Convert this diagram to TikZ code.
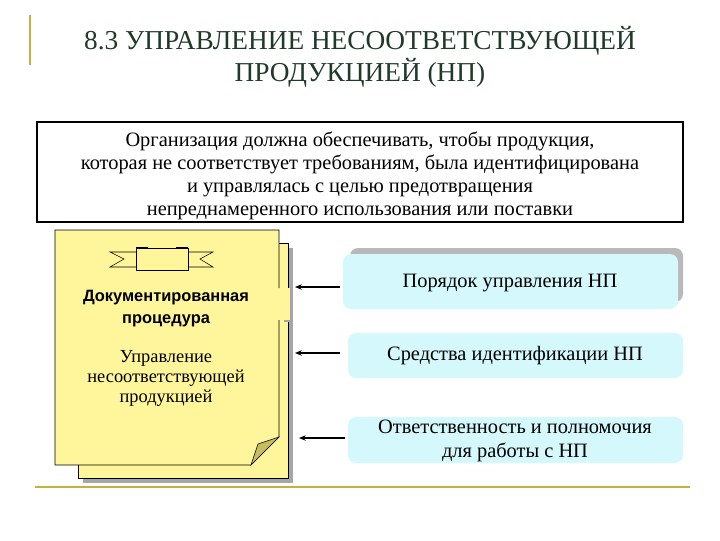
\documentclass[tikz,border=0pt]{standalone}
\usepackage{fontspec}
\usetikzlibrary{arrows.meta}
\setmainfont{Liberation Serif}
\newfontfamily\sansf{Liberation Sans}
\definecolor{olive}{HTML}{C8B040}
\definecolor{paper}{HTML}{FFF59A}
\definecolor{cyanb}{HTML}{D4F8FB}
\definecolor{titlec}{HTML}{1F3A2A}
\definecolor{fold}{HTML}{C8BC60}
\begin{document}
\begin{tikzpicture}[x=0.75pt,y=-0.75pt,
  arr/.style={-{Stealth[length=5pt,width=4pt]},line width=1pt},
  btxt/.style={font=\fontsize{15.3}{17.5}\selectfont,align=center}]
\useasboundingbox (0,0) rectangle (720,540);
\fill[white] (0,0) rectangle (720,540);
\draw[olive,line width=1.2pt] (30,15) -- (30,65);
\draw[olive,line width=1.5pt] (35,487) -- (690,487);
\node[titlec,font=\fontsize{20.5}{24}\selectfont,align=center] (title) at (360,57) {8.3 УПРАВЛЕНИЕ НЕСООТВЕТСТВУЮЩЕЙ\\ПРОДУКЦИЕЙ (НП)};
\draw[fill=white,line width=0.8pt] (37,122) rectangle (683,222);
\node[font=\fontsize{15.3}{17.3}\selectfont,align=center] (stmt) at (360,176) {Организация должна обеспечивать, чтобы продукция,\\которая не соответствует требованиям, была идентифицирована\\и управлялась с целью предотвращения\\непреднамеренного использования или поставки};
% document sheets
\fill[gray!70] (83,248) rectangle (293,483);
\draw[fill=paper] (78,243) rectangle (288,478);
\fill[gray!70] (284,288) rectangle (293,322);
\fill[paper] (279,288) rectangle (290,320);
\fill[paper] (55,230) -- (279,230) -- (279,437) -- (251,465) -- (55,465) -- cycle;
\draw (279,288) -- (279,230) -- (55,230) -- (55,465) -- (251,465) -- (279,437) -- (279,320);
\draw[fill=fold] (279,437) -- (258,444) -- (251,465) -- cycle;
% ribbon icon
\draw (136,248) rectangle (188,270);
\draw[line width=1.6pt] (136,248) -- (148,248) (176,248) -- (188,248);
\draw (136,252) -- (110,252) -- (124,259) -- (110,267) -- (136,267);
\draw (188,252) -- (213,252) -- (200,259) -- (213,267) -- (188,267);
\node[font=\sansf\bfseries\fontsize{12.3}{16.5}\selectfont,align=center] (dp) at (166,309) {Документированная\\процедура};
\node[font=\fontsize{13.8}{15}\selectfont,align=center] (upr) at (166,378) {Управление\\несоответствующей\\продукцией};
\coordinate (t1) at (295,287);
\coordinate (t2) at (295,353);
\coordinate (t3) at (299,438);
% cyan boxes
\fill[gray!55,rounded corners=6pt] (350,248) rectangle (683,302);
\fill[cyanb,rounded corners=6pt] (343,254) rectangle (678,309);
\node[btxt] (l1) at (510,283) {Порядок управления НП};
\fill[cyanb,rounded corners=6pt] (348,333) rectangle (683,378);
\node[btxt] (l2) at (515,356) {Средства идентификации НП};
\fill[cyanb,rounded corners=6pt] (348,417) rectangle (683,463);
\node[btxt] (l3) at (515,441) {Ответственность и полномочия\\для работы с НП};
\coordinate (s1) at (340,287);
\coordinate (s2) at (340,353);
\coordinate (s3) at (345,438);
\draw[arr] (s1) -- (t1);
\draw[arr] (s2) -- (t2);
\draw[arr] (s3) -- (t3);
\end{tikzpicture}
\end{document}
